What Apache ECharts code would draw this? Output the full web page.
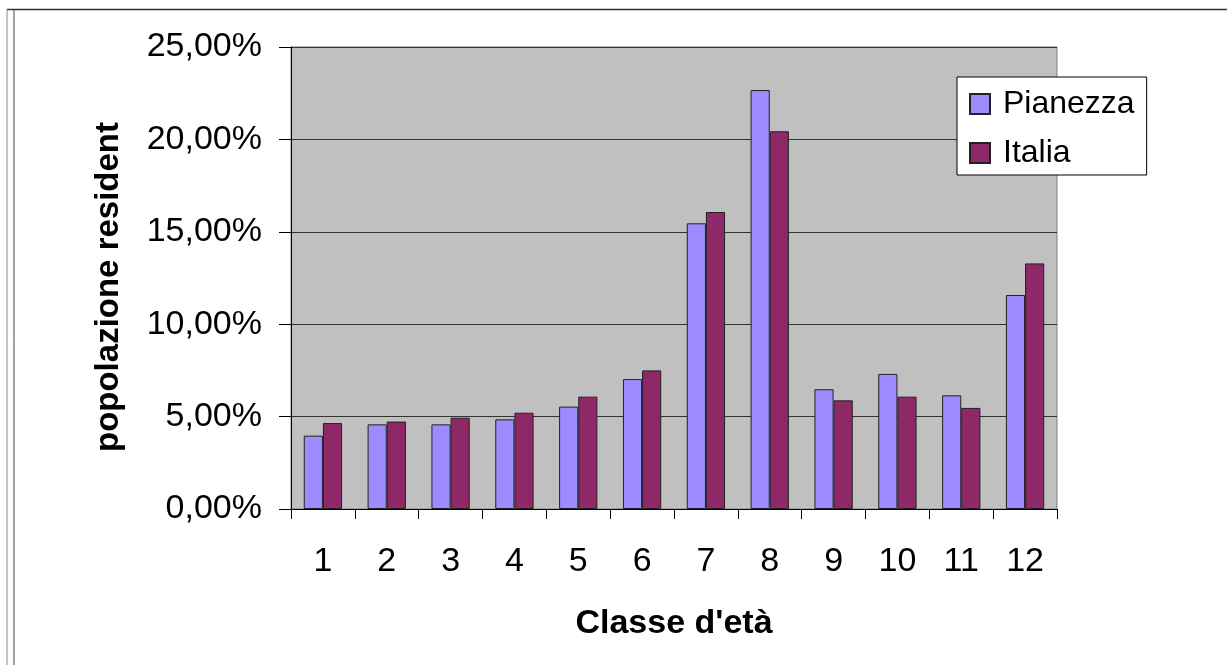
<!DOCTYPE html>
<html>
<head>
<meta charset="utf-8">
<script src="https://cdn.jsdelivr.net/npm/echarts@6/dist/echarts.min.js"></script>
<style>
html,body{margin:0;padding:0;background:#fff;}
#chart{width:1227px;height:665px;}
</style>
</head>
<body>
<div id="chart"></div>
<script>
const categories = ['1','2','3','4','5','6','7','8','9','10','11','12'];
const pianezza = [3.97, 4.58, 4.58, 4.85, 5.54, 7.03, 15.46, 22.67, 6.48, 7.31, 6.15, 11.58];
const italia = [4.65, 4.73, 4.94, 5.21, 6.08, 7.50, 16.07, 20.44, 5.88, 6.08, 5.47, 13.29];
const yMin = 0, yMax = 25, yStep = 5;
const seriesNames = ['Pianezza', 'Italia'];
const xTitle = "Classe d'età";
const yTitle = 'popolazione residente';

const FONT = '"Liberation Sans", Arial, sans-serif';
const chart = echarts.init(document.getElementById('chart'), null, {renderer: 'canvas'});
chart.setOption({
  backgroundColor: '#fff',
  animation: false,
  textStyle: {fontFamily: FONT, color: '#000'},
  graphic: [
    {type: 'line', shape: {x1: 7, y1: 9.5, x2: 1227, y2: 9.5}, style: {stroke: '#333', lineWidth: 1.5}, silent: true},
    {type: 'line', shape: {x1: 7, y1: 9.5, x2: 7, y2: 665}, style: {stroke: '#888', lineWidth: 1}, silent: true},
    {type: 'line', shape: {x1: 14, y1: 9.5, x2: 14, y2: 665}, style: {stroke: '#444', lineWidth: 1}, silent: true}
  ],
  grid: {
    left: 291, right: 170, top: 47, bottom: 156,
    show: true, backgroundColor: '#c0c0c0', borderColor: '#808080', borderWidth: 1
  },
  legend: {
    orient: 'vertical',
    left: 957, top: 77,
    padding: [11, 12, 6, 12],
    itemWidth: 20, itemHeight: 20, itemGap: 17,
    backgroundColor: '#fff', borderColor: '#000', borderWidth: 1,
    icon: 'rect',
    textStyle: {fontFamily: FONT, fontSize: 32, color: '#000', padding: [0, 0, 0, 8]},
    data: seriesNames
  },
  xAxis: {
    type: 'category',
    data: categories,
    name: xTitle,
    nameLocation: 'middle',
    nameGap: 98,
    nameTextStyle: {fontFamily: FONT, fontSize: 34, fontWeight: 'bold', color: '#000'},
    axisLine: {lineStyle: {color: '#000', width: 1}},
    axisTick: {show: true, length: 10, lineStyle: {color: '#000'}},
    axisLabel: {fontFamily: FONT, fontSize: 34, color: '#000', margin: 36}
  },
  yAxis: {
    type: 'value',
    min: yMin, max: yMax, interval: yStep,
    name: yTitle,
    nameLocation: 'middle',
    nameGap: 166,
    nameRotate: 90,
    nameTruncate: {maxWidth: 336, ellipsis: ''},
    nameTextStyle: {fontFamily: FONT, fontSize: 33, fontWeight: 'bold', color: '#000', padding: [0, 18, 0, 0]},
    axisLine: {show: true, lineStyle: {color: '#000', width: 1}},
    axisTick: {show: true, length: 12, lineStyle: {color: '#000'}},
    axisLabel: {fontFamily: FONT, fontSize: 34, color: '#000', margin: 29,
      formatter: v => v.toFixed(2).replace('.', ',') + '%'},
    splitLine: {show: true, lineStyle: {color: '#333', width: 1}}
  },
  series: [
    {name: seriesNames[0], type: 'bar', data: pianezza, barGap: '0%', barCategoryGap: '40%',
      itemStyle: {color: '#9d8cff', borderColor: '#222', borderWidth: 1}},
    {name: seriesNames[1], type: 'bar', data: italia, barGap: '0%', barCategoryGap: '40%',
      itemStyle: {color: '#8f2866', borderColor: '#222', borderWidth: 1}}
  ]
});
</script>
</body>
</html>
